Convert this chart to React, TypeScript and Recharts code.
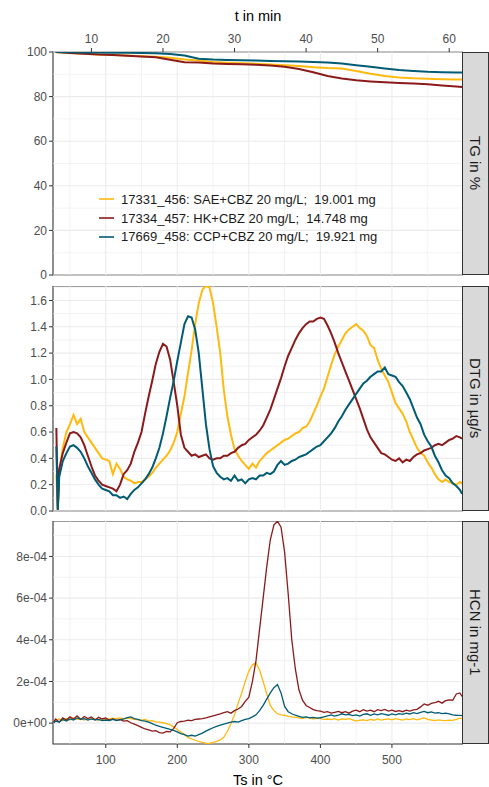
import React from "react";
import { LineChart, Line, XAxis, YAxis, ReferenceLine, ReferenceArea, Legend } from "recharts";

const FONT = '"Liberation Sans", Arial, Helvetica, sans-serif';
const INK = "#333333";
const TICK_TEXT = "#4D4D4D";
const GRID = "#EBEBEB";

const SERIES = [
  { key: "sae", name: "17331_456: SAE+CBZ 20 mg/L;  19.001 mg", color: "#FFB90F" },
  { key: "hk", name: "17334_457: HK+CBZ 20 mg/L;  14.748 mg", color: "#8B1A1A" },
  { key: "ccp", name: "17669_458: CCP+CBZ 20 mg/L;  19.921 mg", color: "#005B74" },
];

// shared temperature axis (°C); the top time axis (min) sits on the same scale
const TS_DOMAIN = [26.3, 599.3];
const TS_TICKS = [100, 200, 300, 400, 500];
const TS_MINOR = [50, 150, 250, 350, 450, 550];
const T_TICKS = [10, 20, 30, 40, 50, 60];
const T_TICKS_AT_TS = [80, 180, 280, 380, 480, 580]; // where each minute tick lands in °C

const TG_TICKS = [0, 20, 40, 60, 80, 100];
const TG_MINOR = [10, 30, 50, 70, 90];
const DTG_TICKS = [0, 0.2, 0.4, 0.6, 0.8, 1.0, 1.2, 1.4, 1.6];
const DTG_MINOR = [0.1, 0.3, 0.5, 0.7, 0.9, 1.1, 1.3, 1.5, 1.7];
const HCN_TICKS = [0, 2, 4, 6, 8]; // in 1e-4
const HCN_MINOR = [1, 3, 5, 7, 9];

const range = (a: number, b: number, step: number) => {
  const out: number[] = [];
  for (let v = a; v <= b; v += step) out.push(v);
  return out;
};

// ---- TG (%) ----
const TG_TS = [30, 50, 70, 90, 110, 130, 150, 170, 190, 210, 230, 250, 270, 290, 310,
  330, 350, 370, 390, 410, 430, 450, 470, 490, 510, 530, 550, 570, 590, 598];
const TG_SAE = [100, 99.6, 99.2, 98.9, 98.7, 98.4, 98.1, 97.9, 97.4, 96.6,
  96.2, 95.5, 95.2, 95.0, 94.7, 94.4, 94.1, 93.7, 93.2, 92.8,
  92.6, 91.5, 90.2, 89.2, 88.6, 88.2, 88.0, 87.8, 87.7, 87.7];
const TG_HK = [100, 99.6, 99.2, 98.9, 98.6, 98.3, 98.0, 97.6, 96.5, 95.4,
  95.3, 94.8, 94.6, 94.5, 94.3, 93.9, 93.4, 92.4, 90.9, 89.2,
  88.1, 87.3, 86.8, 86.4, 86.1, 85.9, 85.5, 85.0, 84.5, 84.3];
const TG_CCP = [100, 99.9, 99.8, 99.8, 99.7, 99.7, 99.5, 99.4, 99.1, 98.4,
  97.0, 96.6, 96.4, 96.3, 96.2, 96.0, 95.8, 95.7, 95.5, 95.3,
  94.8, 94.1, 93.4, 92.6, 91.9, 91.5, 91.1, 90.9, 90.8, 90.8];

// ---- DTG (µg/s) ----
const DTG_TS = [31, 33, ...range(35, 595, 5), 598];
const DTG_SAE = [
  0.28, 0.01, 0.30, 0.48, 0.60, 0.66, 0.73, 0.66, 0.70, 0.60,
  0.56, 0.52, 0.48, 0.44, 0.40, 0.39, 0.38, 0.28, 0.36, 0.32,
  0.26, 0.24, 0.23, 0.21, 0.22, 0.22, 0.24, 0.26, 0.29, 0.33,
  0.36, 0.39, 0.42, 0.46, 0.52, 0.60, 0.74, 0.87, 1.05, 1.22,
  1.42, 1.58, 1.68, 1.71, 1.70, 1.58, 1.40, 1.20, 0.92, 0.72,
  0.58, 0.47, 0.42, 0.38, 0.35, 0.32, 0.36, 0.33, 0.38, 0.41,
  0.44, 0.46, 0.48, 0.50, 0.52, 0.54, 0.55, 0.57, 0.59, 0.60,
  0.63, 0.64, 0.68, 0.74, 0.80, 0.87, 0.93, 1.02, 1.11, 1.19,
  1.25, 1.30, 1.35, 1.38, 1.40, 1.42, 1.39, 1.37, 1.33, 1.26,
  1.24, 1.15, 1.08, 1.03, 0.98, 0.90, 0.82, 0.78, 0.74, 0.68,
  0.60, 0.54, 0.48, 0.44, 0.42, 0.37, 0.33, 0.28, 0.24, 0.22,
  0.24, 0.22, 0.21, 0.20, 0.22, 0.21,
];
const DTG_HK = [
  0.63, 0.01, 0.32, 0.44, 0.52, 0.59, 0.60, 0.59, 0.56, 0.50,
  0.42, 0.34, 0.27, 0.23, 0.20, 0.19, 0.18, 0.17, 0.15, 0.20,
  0.28, 0.31, 0.36, 0.45, 0.52, 0.60, 0.74, 0.87, 0.99, 1.12,
  1.21, 1.27, 1.25, 1.15, 0.98, 0.80, 0.58, 0.48, 0.45, 0.42,
  0.43, 0.41, 0.42, 0.43, 0.40, 0.39, 0.40, 0.40, 0.42, 0.42,
  0.44, 0.45, 0.48, 0.50, 0.51, 0.54, 0.56, 0.58, 0.61, 0.65,
  0.71, 0.77, 0.85, 0.93, 1.01, 1.10, 1.18, 1.24, 1.30, 1.35,
  1.39, 1.42, 1.44, 1.44, 1.46, 1.47, 1.46, 1.41, 1.35, 1.28,
  1.20, 1.13, 1.06, 0.99, 0.92, 0.85, 0.78, 0.70, 0.62, 0.56,
  0.52, 0.48, 0.44, 0.43, 0.41, 0.39, 0.38, 0.40, 0.37, 0.39,
  0.38, 0.41, 0.43, 0.44, 0.46, 0.47, 0.48, 0.50, 0.51, 0.50,
  0.52, 0.54, 0.55, 0.57, 0.56, 0.55,
];
const DTG_CCP = [
  0.49, 0.01, 0.26, 0.38, 0.44, 0.49, 0.50, 0.48, 0.45, 0.40,
  0.34, 0.29, 0.24, 0.20, 0.17, 0.16, 0.15, 0.12, 0.12, 0.10,
  0.11, 0.09, 0.13, 0.16, 0.18, 0.21, 0.24, 0.28, 0.33, 0.40,
  0.48, 0.59, 0.72, 0.86, 0.99, 1.14, 1.28, 1.42, 1.48, 1.47,
  1.38, 1.20, 0.93, 0.66, 0.47, 0.34, 0.29, 0.26, 0.24, 0.25,
  0.23, 0.27, 0.23, 0.24, 0.21, 0.24, 0.25, 0.24, 0.27, 0.27,
  0.29, 0.28, 0.30, 0.35, 0.38, 0.35, 0.36, 0.38, 0.39, 0.41,
  0.42, 0.43, 0.45, 0.47, 0.49, 0.50, 0.53, 0.56, 0.59, 0.63,
  0.68, 0.72, 0.77, 0.81, 0.85, 0.89, 0.93, 0.97, 0.99, 1.02,
  1.04, 1.06, 1.06, 1.09, 1.04, 1.03, 1.02, 0.98, 0.95, 0.90,
  0.85, 0.78, 0.71, 0.66, 0.58, 0.53, 0.49, 0.42, 0.37, 0.31,
  0.27, 0.25, 0.21, 0.19, 0.16, 0.13,
];

// ---- HCN (1e-4 mg-1) ----
const HCN_TS = [27, ...range(30, 595, 5), 598];
const HCN_SAE = [
  0.10, 0.15, 0.20, 0.12, 0.22, 0.15, 0.25, 0.18, 0.20, 0.15,
  0.22, 0.18, 0.20, 0.14, 0.22, 0.18, 0.20, 0.24, 0.22, 0.25,
  0.20, 0.24, 0.22, 0.18, 0.16, 0.14, 0.18, 0.10, 0.12, 0.06,
  0.05, 0.02, -0.02, -0.08, -0.18, -0.30, -0.42, -0.55, -0.68, -0.75,
  -0.82, -0.88, -0.92, -0.96, -0.97, -0.92, -0.88, -0.80, -0.68, -0.40,
  -0.02, 0.40, 0.95, 1.45, 2.00, 2.50, 2.80, 2.89, 2.55, 2.00,
  1.40, 0.85, 0.60, 0.45, 0.40, 0.38, 0.33, 0.30, 0.28, 0.25,
  0.22, 0.28, 0.25, 0.20, 0.24, 0.22, 0.18, 0.20, 0.17, 0.22,
  0.15, 0.20, 0.18, 0.22, 0.16, 0.10, 0.14, 0.16, 0.12, 0.18,
  0.14, 0.20, 0.15, 0.18, 0.20, 0.16, 0.22, 0.18, 0.15, 0.20,
  0.17, 0.22, 0.16, 0.20, 0.25, 0.18, 0.15, 0.12, 0.16, 0.13,
  0.12, 0.15, 0.13, 0.18, 0.24, 0.22,
];
const HCN_HK = [
  0.05, 0.20, 0.05, 0.25, 0.15, 0.30, 0.20, 0.35, 0.18, 0.32,
  0.22, 0.30, 0.15, 0.28, 0.20, 0.25, 0.15, 0.20, 0.12, 0.18,
  0.10, 0.12, 0.02, -0.05, -0.12, -0.20, -0.28, -0.32, -0.38, -0.36,
  -0.45, -0.48, -0.40, -0.42, -0.25, 0.02, 0.08, 0.10, 0.14, 0.12,
  0.18, 0.20, 0.22, 0.25, 0.30, 0.35, 0.40, 0.45, 0.50, 0.55,
  0.48, 0.60, 0.68, 0.80, 1.05, 1.25, 2.00, 3.00, 4.50, 6.00,
  7.50, 8.80, 9.50, 9.69, 9.40, 8.20, 6.20, 4.00, 2.60, 1.60,
  1.10, 0.85, 0.75, 0.65, 0.60, 0.58, 0.52, 0.55, 0.48, 0.52,
  0.56, 0.50, 0.55, 0.48, 0.58, 0.62, 0.55, 0.65, 0.58, 0.62,
  0.55, 0.65, 0.60, 0.66, 0.58, 0.62, 0.56, 0.60, 0.55, 0.62,
  0.58, 0.64, 0.66, 0.78, 0.92, 0.86, 0.95, 0.98, 1.05, 0.96,
  1.08, 1.12, 1.10, 1.40, 1.45, 1.28,
];
const HCN_CCP = [
  0.00, 0.10, 0.05, 0.18, 0.10, 0.20, 0.15, 0.25, 0.18, 0.22,
  0.15, 0.20, 0.16, 0.18, 0.12, 0.15, 0.12, 0.18, 0.14, 0.16,
  0.20, 0.26, 0.30, 0.22, 0.18, 0.12, 0.10, 0.05, -0.02, -0.10,
  -0.15, -0.20, -0.25, -0.30, -0.35, -0.42, -0.50, -0.55, -0.62, -0.58,
  -0.62, -0.55, -0.48, -0.38, -0.30, -0.22, -0.15, -0.10, -0.05, 0.00,
  0.05, 0.08, 0.05, 0.12, 0.18, 0.22, 0.30, 0.40, 0.60, 0.85,
  1.15, 1.45, 1.70, 1.85, 1.45, 0.80, 0.55, 0.45, 0.38, 0.33,
  0.28, 0.30, 0.25, 0.28, 0.24, 0.26, 0.30, 0.35, 0.40, 0.34,
  0.38, 0.45, 0.40, 0.42, 0.36, 0.40, 0.34, 0.42, 0.45, 0.38,
  0.44, 0.40, 0.46, 0.42, 0.38, 0.44, 0.40, 0.46, 0.42, 0.48,
  0.44, 0.50, 0.46, 0.52, 0.56, 0.50, 0.54, 0.48, 0.50, 0.46,
  0.48, 0.44, 0.40, 0.38, 0.37, 0.36,
];

const toRows = (ts: number[], a: number[], b: number[], c: number[]) =>
  ts.map((x, i) => ({ ts: x, sae: a[i], hk: b[i], ccp: c[i] }));

const tgData = toRows(TG_TS, TG_SAE, TG_HK, TG_CCP);
const dtgData = toRows(DTG_TS, DTG_SAE, DTG_HK, DTG_CCP);
const hcnData = toRows(HCN_TS, HCN_SAE, HCN_HK, HCN_CCP);

const W = 463;
const Y_W = 53;
const tickStyle = { fill: TICK_TEXT, fontSize: 12, fontFamily: FONT };

function gridLines(xMinor: number[], xMajor: number[], yMinor: number[], yMajor: number[]) {
  return [
    ...xMinor.map((v) => <ReferenceLine key={`xm${v}`} x={v} stroke={GRID} strokeWidth={0.6} />),
    ...yMinor.map((v) => <ReferenceLine key={`ym${v}`} y={v} stroke={GRID} strokeWidth={0.6} />),
    ...xMajor.map((v) => <ReferenceLine key={`xM${v}`} x={v} stroke={GRID} strokeWidth={1.1} />),
    ...yMajor.map((v) => <ReferenceLine key={`yM${v}`} y={v} stroke={GRID} strokeWidth={1.1} />),
  ];
}

function lines(width: number) {
  return SERIES.map((s) => (
    <Line
      key={s.key}
      dataKey={s.key}
      name={s.name}
      stroke={s.color}
      strokeWidth={width}
      dot={false}
      type="linear"
      isAnimationActive={false}
    />
  ));
}

function LegendBox() {
  return (
    <div style={{ fontFamily: FONT, fontSize: 13, color: "#1A1A1A" }}>
      {SERIES.map((s) => (
        <div key={s.key} style={{ display: "flex", alignItems: "center", height: 18.7 }}>
          <svg width={17} height={10} style={{ marginRight: 5 }}>
            <line x1={0} y1={5} x2={15} y2={5} stroke={s.color} strokeWidth={1.6} />
          </svg>
          <span style={{ whiteSpace: "pre" }}>{s.name}</span>
        </div>
      ))}
    </div>
  );
}

function Strip({ top, height, text }: { top: number; height: number; text: string }) {
  return (
    <div
      style={{
        position: "absolute",
        left: 462,
        top,
        width: 27,
        height,
        boxSizing: "border-box",
        background: "#D9D9D9",
        border: `1px solid ${INK}`,
        display: "flex",
        alignItems: "center",
        justifyContent: "center",
        writingMode: "vertical-rl",
        fontFamily: FONT,
        fontSize: 15,
        color: "#1A1A1A",
      }}
    >
      {text}
    </div>
  );
}

export default function App() {
  return (
    <div style={{ position: "absolute", left: 0, top: 0, width: 489, height: 787, background: "#fff", fontFamily: FONT }}>
      <div style={{ position: "absolute", left: 0, top: 0 }}>
        <LineChart width={W} height={285} data={tgData} margin={{ top: 0, right: 0, bottom: 10, left: 0 }}>
          <XAxis dataKey="ts" type="number" domain={TS_DOMAIN} allowDataOverflow hide />
          <XAxis
            xAxisId="t"
            dataKey="ts"
            orientation="top"
            type="number"
            domain={TS_DOMAIN}
            allowDataOverflow
            ticks={T_TICKS_AT_TS}
            tickFormatter={(v: number) => String(T_TICKS[T_TICKS_AT_TS.indexOf(v)] ?? "")}
            interval={0}
            height={52}
            axisLine={false}
            tickLine={{ stroke: INK }}
            tickSize={4}
            tickMargin={5}
            tick={tickStyle}
            label={{ value: "t in min", position: "insideTop", offset: 11, fill: "#000", fontSize: 14.5, fontFamily: FONT }}
          />
          <YAxis
            type="number"
            domain={[0, 100]}
            allowDataOverflow
            ticks={TG_TICKS}
            interval={0}
            width={Y_W}
            axisLine={false}
            tickLine={{ stroke: INK }}
            tickSize={4}
            tickMargin={2}
            tick={tickStyle}
          />
          {gridLines(TS_MINOR, TS_TICKS, TG_MINOR, TG_TICKS)}
          {lines(2)}
          <ReferenceArea x1={TS_DOMAIN[0]} x2={TS_DOMAIN[1]} y1={0} y2={100} fill="none" stroke={INK} strokeWidth={1.1} />
          <Legend
            layout="vertical"
            verticalAlign="middle"
            align="center"
            content={() => <LegendBox />}
            wrapperStyle={{ left: 99, top: 190, width: "auto", height: "auto" }}
          />
        </LineChart>
      </div>
      <Strip top={52} height={223} text="TG in %" />

      <div style={{ position: "absolute", left: 0, top: 286 }}>
        <LineChart width={W} height={235} data={dtgData} margin={{ top: 0, right: 0, bottom: 10, left: 0 }}>
          <XAxis dataKey="ts" type="number" domain={TS_DOMAIN} allowDataOverflow hide />
          <YAxis
            type="number"
            domain={[0, 1.71]}
            allowDataOverflow
            ticks={DTG_TICKS}
            interval={0}
            width={Y_W}
            axisLine={false}
            tickLine={{ stroke: INK }}
            tickSize={4}
            tickMargin={2}
            tick={tickStyle}
            tickFormatter={(v: number) => v.toFixed(1)}
          />
          {gridLines(TS_MINOR, TS_TICKS, DTG_MINOR, DTG_TICKS)}
          {lines(2)}
          <ReferenceArea x1={TS_DOMAIN[0]} x2={TS_DOMAIN[1]} y1={0} y2={1.71} fill="none" stroke={INK} strokeWidth={1.1} />
        </LineChart>
      </div>
      <Strip top={286} height={225} text="DTG in µg/s" />

      <div style={{ position: "absolute", left: 0, top: 521 }}>
        <LineChart width={W} height={266} data={hcnData} margin={{ top: 0, right: 0, bottom: 0, left: 0 }}>
          <XAxis
            dataKey="ts"
            type="number"
            domain={TS_DOMAIN}
            allowDataOverflow
            ticks={TS_TICKS}
            interval={0}
            height={43}
            axisLine={false}
            tickLine={{ stroke: INK }}
            tickSize={4}
            tickMargin={7}
            tick={tickStyle}
            label={{ value: "Ts in °C", position: "insideBottom", offset: 2, fill: "#000", fontSize: 14.5, fontFamily: FONT }}
          />
          <YAxis
            type="number"
            domain={[-1.0, 9.7]}
            allowDataOverflow
            ticks={HCN_TICKS}
            interval={0}
            width={Y_W}
            axisLine={false}
            tickLine={{ stroke: INK }}
            tickSize={4}
            tickMargin={2}
            tick={tickStyle}
            tickFormatter={(v: number) => (v === 0 ? "0e+00" : `${v}e-04`)}
          />
          {gridLines(TS_MINOR, TS_TICKS, HCN_MINOR, HCN_TICKS)}
          {lines(1.3)}
          <ReferenceArea x1={TS_DOMAIN[0]} x2={TS_DOMAIN[1]} y1={-1.0} y2={9.7} fill="none" stroke={INK} strokeWidth={1.1} />
        </LineChart>
      </div>
      <Strip top={521} height={223} text="HCN in mg-1" />
    </div>
  );
}
